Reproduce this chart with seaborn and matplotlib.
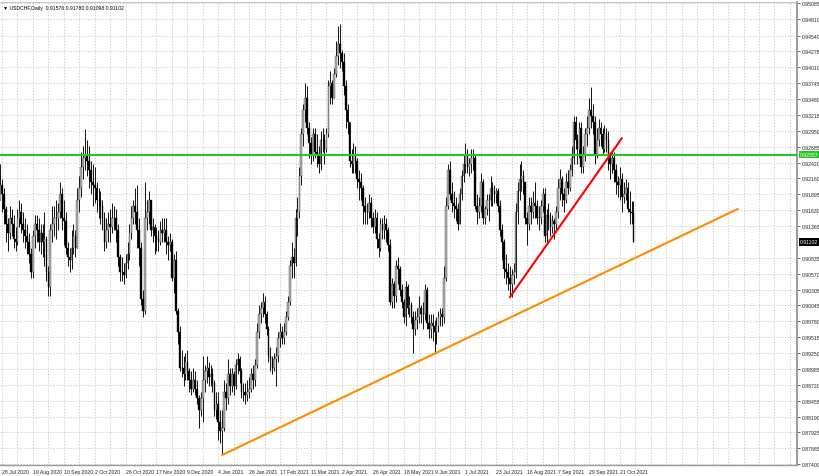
import matplotlib
matplotlib.use('Agg')
import matplotlib.pyplot as plt
import numpy as np
import pandas as pd
import seaborn as sns

# USDCHF daily, 27 Jul 2020 - 1 Nov 2021, prices in pips (9205 -> 0.9205)
first_open = 9180
close = [
    9205, 9190, 9165, 9140, 9125,  9150, 9140, 9115, 9110, 9150,
    9160, 9140, 9130, 9120, 9110,  9090, 9060, 9120, 9140, 9130,
    9110, 9125, 9110, 9115, 9060,  9035, 9130, 9140, 9150, 9150,
    9160, 9190, 9150, 9145, 9100,  9085, 9080, 9100, 9120, 9100,
    9180, 9200, 9235, 9250, 9255,  9245, 9230, 9210, 9205, 9200,
    9180, 9180, 9170, 9150, 9110,  9130, 9140, 9135, 9150, 9150,
    9130, 9085, 9060, 9060, 9055,  9075, 9090, 9125, 9150, 9170,
    9160, 9130, 9100, 9015, 8995,  9150, 9160, 9180, 9130, 9135,
    9120, 9115, 9110, 9130, 9125,  9130, 9110, 9105, 9110, 9050,
    9080, 8995, 8960, 8900, 8900,  8890, 8910, 8895, 8880, 8865,
    8880, 8865, 8850, 8830, 8850,  8880, 8895, 8900, 8885,
    8890, 8875, 8830, 8840,
    8810, 8795, 8800, 8860, 8850,  8890, 8870, 8890, 8870, 8905,
    8915, 8895, 8860, 8860, 8855,  8860, 8865, 8890, 8880, 8905,
    8960, 8990, 9000, 9010, 8990,  8965, 8920, 8915, 8900, 8915,
    8920, 8950, 8960, 8950, 8960,  8985, 9010, 9070, 9085, 9075,
    9150, 9160, 9220, 9290, 9330,  9350, 9300, 9275, 9255, 9290,
    9260, 9255, 9240, 9280, 9280,  9265, 9290, 9370, 9375, 9350,
    9390, 9420, 9440, 9425, 9410,  9370, 9330, 9310, 9245, 9240,
    9255, 9245, 9215, 9210, 9200,  9170, 9160, 9160, 9175, 9150,
    9135, 9150, 9115, 9100, 9140,  9130, 9140, 9130, 9105, 9010,
    9040, 9020, 9070, 9065, 9030,  9010, 8985, 9035, 9000, 9005,
    8985, 8965, 8980, 8985, 9000,  8990, 8990, 9030, 8975, 8965,
    8975, 8970, 8960, 8970, 8985,  8990, 8985, 9050, 9170, 9230,
    9190, 9175, 9170, 9165, 9140,  9190, 9220, 9240, 9255, 9235,
    9240, 9250, 9250, 9170, 9160,  9170, 9210, 9150, 9165, 9180,
    9180, 9200, 9195, 9190, 9195,  9170, 9130, 9110, 9065, 9060,
    9050, 9040, 9055, 9060, 9160,  9195, 9215, 9220, 9210, 9150,
    9140, 9170, 9160, 9175, 9170,  9150, 9150, 9170, 9190, 9120,
    9155, 9150, 9135, 9145, 9140,  9160, 9200, 9215, 9190, 9180,
    9210, 9200, 9230, 9250, 9310,  9280, 9265, 9300, 9235, 9255,
    9290, 9300, 9330, 9320, 9310,  9255, 9280, 9300, 9290, 9265,
    9290, 9280, 9250, 9240, 9250,  9230, 9210, 9205, 9215, 9185,
    9190, 9200, 9165, 9160, 9158,  9110,
]
high = [
    9240, 9215, 9200, 9170, 9150,  9170, 9165, 9155, 9135, 9165,
    9180, 9175, 9160, 9150, 9140,  9125, 9100, 9130, 9155, 9155,
    9150, 9140, 9140, 9160, 9120,  9070, 9140, 9170, 9170, 9180,
    9175, 9210, 9200, 9180, 9160,  9110, 9100, 9130, 9140, 9130,
    9200, 9220, 9260, 9270, 9298,  9280, 9270, 9245, 9240, 9235,
    9210, 9200, 9195, 9180, 9160,  9150, 9160, 9165, 9175, 9170,
    9165, 9140, 9090, 9085, 9075,  9090, 9110, 9140, 9170, 9180,
    9200, 9205, 9150, 9110, 9030,  9210, 9180, 9195, 9180, 9150,
    9140, 9135, 9130, 9145, 9150,  9150, 9150, 9120, 9125, 9115,
    9090, 9095, 9000, 8970, 8930,  8920, 8925, 8930, 8900, 8895,
    8900, 8895, 8880, 8855, 8860,  8920, 8905, 8920, 8910,
    8905, 8900, 8880, 8860,
    8860, 8830, 8830, 8880, 8875,  8915, 8900, 8900, 8895, 8915,
    8925, 8920, 8900, 8875, 8875,  8880, 8885, 8900, 8905, 8915,
    8975, 9005, 9010, 9025, 9020,  8995, 8970, 8935, 8920, 8925,
    8935, 8960, 8975, 8970, 8975,  8995, 9020, 9080, 9110, 9100,
    9165, 9185, 9235, 9300, 9340,  9375, 9370, 9310, 9285, 9300,
    9300, 9290, 9270, 9295, 9300,  9290, 9300, 9380, 9395, 9380,
    9400, 9445, 9470, 9473, 9430,  9425, 9380, 9340, 9310, 9265,
    9275, 9270, 9250, 9230, 9225,  9205, 9185, 9175, 9190, 9185,
    9160, 9165, 9160, 9125, 9150,  9150, 9155, 9150, 9135, 9115,
    9050, 9045, 9080, 9085, 9070,  9040, 9015, 9045, 9040, 9020,
    9010, 8995, 8995, 9000, 9020,  9005, 9010, 9040, 9035, 8990,
    8990, 8990, 8980, 8985, 8995,  9000, 9000, 9070, 9185, 9240,
    9245, 9210, 9195, 9185, 9175,  9200, 9230, 9255, 9275, 9265,
    9250, 9265, 9265, 9255, 9190,  9185, 9225, 9215, 9170, 9190,
    9190, 9220, 9210, 9205, 9200,  9200, 9180, 9140, 9115, 9090,
    9075, 9070, 9065, 9075, 9175,  9210, 9240, 9245, 9230, 9210,
    9160, 9185, 9185, 9195, 9210,  9180, 9170, 9180, 9200, 9200,
    9165, 9175, 9160, 9155, 9150,  9170, 9215, 9232, 9220, 9200,
    9225, 9230, 9240, 9270, 9320,  9320, 9290, 9310, 9310, 9270,
    9300, 9320, 9350, 9368, 9340,  9320, 9300, 9315, 9310, 9300,
    9305, 9300, 9295, 9260, 9260,  9260, 9240, 9220, 9235, 9225,
    9210, 9215, 9210, 9195, 9178,  9178,
]
low = [
    9180, 9160, 9140, 9110, 9095,  9115, 9120, 9100, 9095, 9105,
    9135, 9125, 9110, 9100, 9090,  9075, 9050, 9050, 9100, 9110,
    9095, 9090, 9085, 9070, 9045,  9020, 9020, 9110, 9120, 9115,
    9130, 9150, 9130, 9105, 9090,  9070, 9060, 9065, 9090, 9085,
    9100, 9160, 9185, 9215, 9230,  9220, 9200, 9190, 9170, 9175,
    9160, 9150, 9140, 9130, 9095,  9100, 9110, 9110, 9125, 9130,
    9110, 9070, 9045, 9045, 9040,  9050, 9065, 9080, 9115, 9140,
    9140, 9100, 9070, 9005, 8985,  8990, 9130, 9140, 9120, 9110,
    9090, 9095, 9095, 9105, 9110,  9110, 9090, 9080, 9095, 9045,
    9025, 8990, 8940, 8895, 8885,  8870, 8880, 8880, 8860, 8855,
    8860, 8855, 8840, 8800, 8820,  8810, 8860, 8875, 8870,
    8870, 8860, 8820, 8815,
    8780, 8775, 8757, 8795, 8830,  8840, 8855, 8860, 8855, 8865,
    8890, 8875, 8850, 8845, 8840,  8845, 8850, 8860, 8865, 8870,
    8900, 8950, 8975, 8985, 8975,  8955, 8910, 8895, 8890, 8895,
    8870, 8910, 8935, 8940, 8940,  8955, 8980, 9005, 9050, 9050,
    9070, 9120, 9150, 9205, 9270,  9310, 9290, 9250, 9240, 9245,
    9250, 9235, 9225, 9230, 9260,  9240, 9260, 9285, 9340, 9340,
    9350, 9385, 9405, 9400, 9395,  9355, 9300, 9290, 9235, 9225,
    9225, 9225, 9200, 9180, 9180,  9140, 9140, 9140, 9150, 9135,
    9125, 9125, 9100, 9085, 9095,  9115, 9115, 9110, 9095, 9005,
    9000, 9000, 9010, 9040, 9020,  9000, 8975, 8970, 8990, 8985,
    8975, 8925, 8955, 8965, 8975,  8975, 8965, 8980, 8965, 8950,
    8950, 8945, 8925, 8940, 8960,  8970, 8970, 8975, 9045, 9165,
    9180, 9160, 9150, 9145, 9130,  9140, 9180, 9210, 9225, 9225,
    9220, 9225, 9230, 9165, 9140,  9150, 9160, 9140, 9140, 9155,
    9145, 9170, 9170, 9175, 9175,  9160, 9120, 9080, 9050, 9040,
    9030, 9020, 9018, 9040, 9050,  9140, 9180, 9195, 9190, 9140,
    9105, 9130, 9140, 9150, 9150,  9140, 9130, 9140, 9160, 9110,
    9110, 9130, 9120, 9125, 9115,  9130, 9150, 9180, 9170, 9160,
    9175, 9190, 9195, 9220, 9240,  9265, 9240, 9250, 9225, 9225,
    9245, 9270, 9290, 9300, 9290,  9240, 9250, 9270, 9270, 9255,
    9260, 9260, 9230, 9215, 9225,  9210, 9190, 9185, 9180, 9160,
    9175, 9180, 9160, 9140, 9140,  9110,
]

holidays = ['2020-12-25', '2021-01-01']
date_labels = ['28 Jul 2020', '19 Aug 2020', '10 Sep 2020', '2 Oct 2020', '26 Oct 2020',
               '17 Nov 2020', '9 Dec 2020', '4 Jan 2021', '26 Jan 2021', '17 Feb 2021',
               '11 Mar 2021', '2 Apr 2021', '26 Apr 2021', '18 May 2021', '9 Jun 2021',
               '1 Jul 2021', '23 Jul 2021', '16 Aug 2021', '7 Sep 2021', '29 Sep 2021',
               '21 Oct 2021']
price_ticks = [0.87400, 0.87665, 0.87925, 0.88190, 0.88455, 0.88720, 0.88985, 0.89250,
               0.89515, 0.89780, 0.90045, 0.90305, 0.90570, 0.90835, 0.91365, 0.91630,
               0.91895, 0.92160, 0.92420, 0.92685, 0.92950, 0.93215, 0.93480, 0.93745,
               0.94010, 0.94275, 0.94540, 0.94810, 0.95085]

# trend lines (date, price)
support_dates = ['2021-01-06', '2022-01-14']
support_prices = [0.8755, 0.9165]
channel_dates = ['2021-08-03', '2021-10-22']
channel_prices = [0.9018, 0.9283]
resistance = 0.92557
last_price = 0.91102
header = '\u25bc USDCHF,Daily  0.91576 0.91780 0.91098 0.91102'

# trading calendar -> bar index
days = pd.bdate_range('2020-07-27', '2022-03-31')
days = days[~days.isin(pd.to_datetime(holidays))]
bar_of = pd.Series(np.arange(len(days)), index=days)

df = pd.DataFrame({'date': days[:len(close)],
                   'close': np.array(close) / 1e4,
                   'high': np.array(high) / 1e4,
                   'low': np.array(low) / 1e4})
df['open'] = df['close'].shift(1).fillna(first_open / 1e4)
df['bar'] = np.arange(len(df))
df['high'] = df[['high', 'open', 'close']].max(axis=1)
df['low'] = df[['low', 'open', 'close']].min(axis=1)

sns.set_style('white')
plt.rcParams['font.family'] = ['Liberation Sans', 'DejaVu Sans']
fs = 3.7

fig = plt.figure(figsize=(8.2, 4.77), dpi=100)
ax = fig.add_axes([0, 11 / 477, 797 / 820, 463 / 477])

grid_kw = dict(color='#c4c4c4', lw=0.6, ls=(0, (1.5, 2)))
label_pos = [bar_of[pd.to_datetime(d, format='%d %b %Y')] for d in date_labels]
for gx in np.arange(label_pos[0], 413, 8):
    ax.axvline(gx, zorder=0, **grid_kw)
for gy in price_ticks:
    ax.axhline(gy, zorder=0, **grid_kw)

# candles
ax.vlines(df['bar'], df['low'], df['high'], color='#111111', lw=0.7, zorder=2)
bull = df[df['close'] >= df['open']]
bear = df[df['close'] < df['open']]
ax.bar(bull['bar'], bull['close'] - bull['open'], bottom=bull['open'], width=0.85,
       color='#b0b0b0', edgecolor='#333333', lw=0.25, zorder=3)
ax.bar(bear['bar'], bear['close'] - bear['open'], bottom=bear['open'], width=0.85,
       color='black', edgecolor='black', lw=0.25, zorder=3)

# trend lines
ax.axhline(resistance, color='#26c626', lw=1.5, zorder=4)
sns.lineplot(x=[bar_of[pd.Timestamp(d)] for d in support_dates], y=support_prices,
             color='#ff8c00', lw=1.5, ax=ax, zorder=5)
sns.lineplot(x=[bar_of[pd.Timestamp(d)] for d in channel_dates], y=channel_prices,
             color='#ff0000', lw=1.5, ax=ax, zorder=5)

ax.set_xlim(-0.04, 412.7)
ax.set_ylim(0.87383, 0.9510)

ax.yaxis.tick_right()
ax.set_yticks(price_ticks)
ax.set_yticklabels([f'{v:.5f}' for v in price_ticks])
ax.set_xticks(label_pos)
ax.set_xticklabels(date_labels, ha='left')
ax.tick_params(axis='both', labelsize=fs, length=2, width=0.5, pad=1.2, colors='#222222')
ax.set_xlabel('')
ax.set_ylabel('')

# price boxes on the right scale
box = dict(boxstyle='square,pad=0.25', ec='none')
ax.text(1.004, resistance, f'{resistance:.5f}', transform=ax.get_yaxis_transform(),
        ha='left', va='center', fontsize=fs, color='white', clip_on=False,
        bbox=dict(fc='#26c626', **box))
ax.text(1.004, last_price, f'{last_price:.5f}', transform=ax.get_yaxis_transform(),
        ha='left', va='center', fontsize=fs, color='white', clip_on=False,
        bbox=dict(fc='black', **box))
ax.text(0.004, 0.994, header, transform=ax.transAxes, ha='left', va='top',
        fontsize=fs, color='black')

ax.spines['left'].set_visible(False)
ax.spines['top'].set_color('#bbbbbb')
ax.spines['top'].set_linewidth(0.6)
ax.spines['right'].set_color('#9a9a9a')
ax.spines['right'].set_linewidth(1.4)
ax.spines['bottom'].set_color('#9a9a9a')
ax.spines['bottom'].set_linewidth(1.0)

fig.savefig('out.png', dpi=100)
